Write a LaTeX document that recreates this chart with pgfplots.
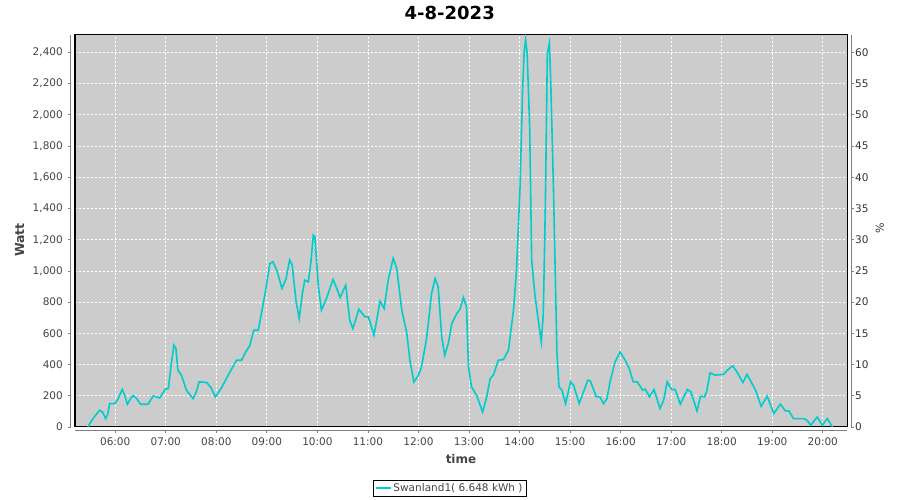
\documentclass[border=0pt]{standalone}
\usepackage{pgfplots}
\usepackage{pgfplotstable}
\pgfplotsset{compat=1.18}
\usepackage{fontspec}
\setmainfont{DejaVu Sans}

\definecolor{plotbg}{HTML}{CCCCCC}
\definecolor{series}{HTML}{00CCCC}
\definecolor{axgray}{HTML}{808080}
\definecolor{labgray}{HTML}{444444}

% time in decimal hours, power in watt
\pgfplotstableread{
h w
5.46 0
5.55 50
5.69 107
5.75 95
5.81 54
5.85 80
5.89 150
5.99 150
6.05 175
6.14 242
6.19 200
6.24 146
6.30 180
6.35 201
6.42 185
6.50 146
6.65 146
6.75 199
6.88 186
6.99 242
7.05 246
7.10 380
7.16 524
7.20 503
7.24 364
7.31 332
7.41 235
7.54 182
7.60 220
7.66 289
7.81 285
7.90 250
7.98 193
8.10 250
8.20 311
8.30 370
8.40 428
8.50 428
8.58 480
8.66 520
8.74 620
8.83 620
8.96 845
9.06 1048
9.12 1059
9.20 1000
9.30 888
9.38 950
9.45 1070
9.50 1040
9.58 800
9.64 696
9.70 850
9.75 941
9.82 930
9.87 1050
9.92 1230
9.95 1219
10.02 898
10.08 749
10.18 824
10.31 946
10.38 890
10.45 830
10.56 909
10.64 685
10.70 631
10.76 690
10.82 755
10.94 706
11.01 706
11.12 588
11.24 806
11.32 760
11.40 941
11.50 1081
11.57 1016
11.67 749
11.77 599
11.83 428
11.91 289
12.00 332
12.06 385
12.16 567
12.26 856
12.33 952
12.39 898
12.46 578
12.52 460
12.59 535
12.66 663
12.76 728
12.82 753
12.89 830
12.95 770
12.99 385
13.05 257
13.15 203
13.27 96
13.35 193
13.42 311
13.48 332
13.58 428
13.68 432
13.78 492
13.88 749
13.94 1006
14.01 1540
14.06 2160
14.09 2396
14.12 2481
14.15 2396
14.20 1925
14.24 1070
14.30 856
14.37 685
14.43 545
14.47 728
14.51 1412
14.55 2396
14.59 2460
14.62 2182
14.67 1540
14.74 471
14.78 257
14.84 236
14.91 150
15.01 289
15.07 268
15.18 150
15.35 300
15.40 295
15.52 193
15.59 193
15.66 150
15.73 182
15.79 289
15.89 417
15.99 481
16.09 428
16.17 375
16.25 289
16.33 289
16.44 235
16.49 242
16.57 193
16.66 240
16.78 118
16.85 171
16.92 289
17.01 240
17.08 240
17.18 146
17.32 240
17.39 225
17.51 103
17.58 197
17.66 193
17.70 225
17.77 347
17.87 332
18.04 338
18.11 364
18.22 392
18.30 353
18.42 285
18.50 338
18.60 278
18.67 235
18.78 133
18.90 197
19.03 86
19.16 146
19.26 103
19.33 103
19.42 54
19.62 54
19.69 43
19.76 11
19.89 64
19.99 11
20.09 54
20.19 0
}\swanland

\begin{document}
\begin{tikzpicture}
\useasboundingbox (0,0) rectangle (900pt,500pt);

\begin{axis}[
  at={(75pt,73pt)}, anchor=south west,
  scale only axis, width=772pt, height=392pt,
  xmin=5.204, xmax=20.479, ymin=0, ymax=2512,
  clip mode=individual,
  axis background/.style={fill=plotbg},
  axis line style={black, line width=1pt},
  xtick={6,...,20},
  xticklabels={06:00,07:00,08:00,09:00,10:00,11:00,12:00,13:00,14:00,15:00,16:00,17:00,18:00,19:00,20:00},
  ytick={0,200,...,2400},
  major tick length=0pt,
  grid=major,
  major grid style={white, line width=0.8pt, dash pattern=on 2pt off 2pt},
  /pgf/number format/assume math mode=true,
  /pgf/number format/1000 sep={,},
  tick label style={font=\fontsize{10.5}{12}\selectfont, text=labgray, inner sep=0pt},
  yticklabel style={anchor=east, xshift=-12pt},
  xticklabel style={anchor=north, yshift=-10.5pt},
  title={4-8-2023},
  title style={at={(axis description cs:0.4854,1.04)}, anchor=center, font=\fontsize{18}{20}\selectfont\bfseries},
  xlabel={time},
  xlabel style={at={(axis description cs:0.5,-0.0816)}, anchor=center, font=\fontsize{12}{14}\selectfont\bfseries, text=labgray},
  ylabel={Watt},
  ylabel style={at={(axis description cs:-0.0716,0.477)}, anchor=center, font=\fontsize{12.5}{14}\selectfont\bfseries, text=labgray},
  legend style={at={(axis description cs:0.4854,-0.156)}, anchor=center, draw=black, line width=0.8pt, fill=white,
    font=\fontsize{10.5}{12}\selectfont, text=labgray, inner xsep=1.5pt, inner ysep=1.5pt},
  legend image code/.code={\draw[#1] (0pt,0pt) -- (15pt,0pt);},
]
\addplot[series, line width=1.6pt] table[x=h, y=w] {\swanland};
\addlegendentry{Swanland1( 6.648 kWh )}

% offset axis lines and outward ticks
\draw[axgray, line width=1pt] ([xshift=-4pt]rel axis cs:0,0) -- ([xshift=-4pt]rel axis cs:0,1);
\draw[axgray, line width=1pt] ([yshift=-4pt]rel axis cs:0,0) -- ([yshift=-4pt]rel axis cs:1,0);
\draw[axgray, line width=1pt] ([xshift=4pt]rel axis cs:1,0) -- ([xshift=4pt]rel axis cs:1,1);
\pgfplotsinvokeforeach{6,...,20}{\draw[axgray, line width=0.8pt] ([yshift=-4pt]axis cs:#1,0) -- ([yshift=-6.5pt]axis cs:#1,0);}
\pgfplotsinvokeforeach{0,200,...,2400}{\draw[axgray, line width=0.8pt] ([xshift=-4pt]axis cs:5.204,#1) -- ([xshift=-6.5pt]axis cs:5.204,#1);}
\pgfplotsinvokeforeach{0,200,...,2400}{\draw[axgray, line width=0.8pt] ([xshift=4pt]axis cs:20.479,#1) -- ([xshift=6.5pt]axis cs:20.479,#1);}
\end{axis}

\begin{axis}[
  at={(75pt,73pt)}, anchor=south west,
  scale only axis, width=772pt, height=392pt,
  xmin=5.204, xmax=20.479, ymin=0, ymax=62.8,
  hide x axis,
  axis y line*=right,
  axis line style={draw=none},
  major tick length=0pt,
  ytick={0,5,...,60},
  /pgf/number format/assume math mode=true,
  yticklabel style={anchor=west, xshift=8pt, inner sep=0pt, font=\fontsize{10.5}{12}\selectfont, text=black!80},
  ylabel={\%},
  ylabel style={at={(axis description cs:1.0424,0.508)}, anchor=center, font=\fontsize{11}{13}\selectfont, text=black!80},
]
\end{axis}
\end{tikzpicture}
\end{document}
